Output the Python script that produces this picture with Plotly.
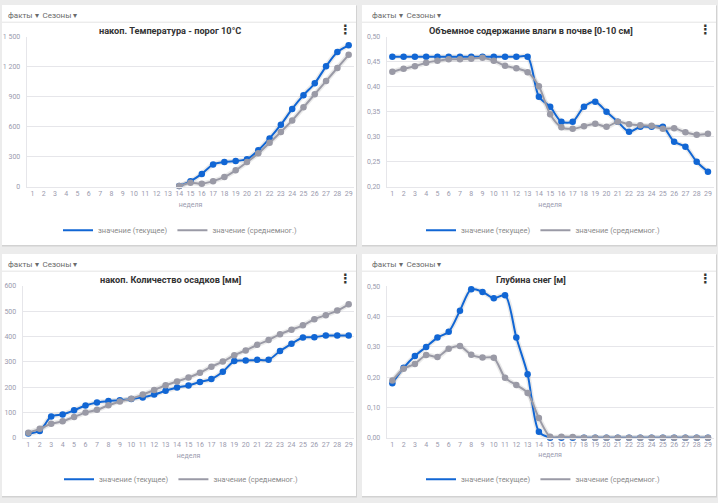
import plotly.graph_objects as go

W, H = 718, 503

# ---------------- data ----------------
weeks = list(range(1, 30))

temp_weeks = list(range(14, 30))
temp_current = [10, 59, 131, 226, 249, 259, 278, 367, 485, 622, 780, 917, 1035, 1205, 1349, 1415]
temp_mean = [10, 43, 33, 59, 101, 167, 249, 337, 442, 550, 665, 796, 927, 1058, 1189, 1320]

soil_current = [0.46, 0.46, 0.46, 0.46, 0.46, 0.46, 0.46, 0.46, 0.46, 0.46, 0.46, 0.46, 0.46,
                0.38, 0.36, 0.33, 0.33, 0.36, 0.37, 0.35, 0.33, 0.31, 0.32, 0.32, 0.32,
                0.29, 0.28, 0.25, 0.23]
soil_mean = [0.430, 0.436, 0.441, 0.448, 0.452, 0.455, 0.455, 0.456, 0.458, 0.452, 0.442, 0.437, 0.429,
             0.401, 0.345, 0.319, 0.316, 0.321, 0.326, 0.320, 0.330, 0.325, 0.323, 0.322, 0.316,
             0.317, 0.309, 0.304, 0.306]

prec_current = [18, 28, 85, 93, 109, 128, 140, 146, 149, 154, 160, 171, 186, 199, 207, 221, 232,
                261, 303, 305, 308, 308, 343, 371, 396, 397, 404, 404, 404]
prec_mean = [21, 36, 56, 66, 83, 100, 111, 129, 144, 155, 171, 189, 208, 223, 238, 257, 281,
             301, 326, 345, 367, 386, 409, 427, 444, 468, 484, 502, 527]

snow_current = [0.18, 0.231, 0.27, 0.30, 0.331, 0.35, 0.42, 0.491, 0.482, 0.461, 0.471, 0.331, 0.21,
                0.02, 0.0, 0.0, 0.0, 0.0, 0.0, 0.0, 0.0, 0.0, 0.0, 0.0, 0.0, 0.0, 0.0, 0.0, 0.0]
snow_mean = [0.189, 0.228, 0.244, 0.273, 0.267, 0.294, 0.303, 0.274, 0.265, 0.264, 0.198, 0.174, 0.148,
             0.065, 0.003, 0.003, 0.002, 0.0, 0.0, 0.0, 0.0, 0.0, 0.0, 0.0, 0.0, 0.0, 0.0, 0.0, 0.0]

titles = ["накоп. Температура - порог 10°C",
          "Объемное содержание влаги в почве [0-10 см]",
          "накоп. Количество осадков [мм]",
          "Глубина снег [м]"]
name_current = "значение (текущее)"
name_mean = "значение (среднемног.)"
x_title = "неделя"
header_text = "факты ▾  Сезоны ▾"

# ---------------- style ----------------
BLUE = "#1166d4"
GRAY = "#9a9aa6"
TICK = "#9a9aae"
GRID = "#e6e6ea"
FONT = "Roboto"


def px(x):
    return x / W


def py(y):
    return 1 - y / H


panels = [
    dict(card=(2, 356, 1, 245), plot=(26.7, 354.3, 33.3, 186.0), title_x=170, menu_x=345, head_x=6,
         legend_x=180, yrange=[0, 1500], dtick=300, fmt=",d",
         x_cur=temp_weeks, y_cur=temp_current, x_mean=temp_weeks, y_mean=temp_mean),
    dict(card=(362, 716, 1, 245), plot=(386.7, 713.6, 33.3, 185.7), title_x=531, menu_x=705, head_x=370,
         legend_x=543, yrange=[0.2, 0.5], dtick=0.05, fmt=".2f",
         x_cur=weeks, y_cur=soil_current, x_mean=weeks, y_mean=soil_mean),
    dict(card=(2, 356, 254, 500), plot=(22.6, 354.4, 286.3, 441.0), title_x=170, menu_x=345, head_x=6,
         legend_x=181, yrange=[0, 600], dtick=100, fmt=",d",
         x_cur=weeks, y_cur=prec_current, x_mean=weeks, y_mean=prec_mean),
    dict(card=(362, 716, 254, 500), plot=(386.7, 713.6, 287.0, 440.7), title_x=531, menu_x=705, head_x=370,
         legend_x=543, yrange=[0, 0.5], dtick=0.1, fmt=".2f",
         x_cur=weeks, y_cur=snow_current, x_mean=weeks, y_mean=snow_mean),
]

fig = go.Figure()
shapes = []
annotations = []
layout = dict(
    width=W, height=H,
    margin=dict(l=0, r=0, t=0, b=0),
    paper_bgcolor="#ececec",
    plot_bgcolor="rgba(0,0,0,0)",
    separators=", ",
    font=dict(family=FONT, size=7, color=TICK),
    showlegend=True,
)

for i, p in enumerate(panels, start=1):
    sfx = "" if i == 1 else str(i)
    xa, ya = "x" + sfx, "y" + sfx
    lg = "legend" + sfx
    cx0, cx1, cy0, cy1 = p["card"]
    x0, x1, y0, y1 = p["plot"]

    # card shadow + card
    shapes.append(dict(type="rect", xref="paper", yref="paper", layer="below",
                       x0=px(cx0), x1=px(cx1 + 1), y0=py(cy1 + 1.5), y1=py(cy0 + 0.5),
                       fillcolor="#d2d2d2", line=dict(width=0)))
    shapes.append(dict(type="rect", xref="paper", yref="paper", layer="below",
                       x0=px(cx0), x1=px(cx1), y0=py(cy1), y1=py(cy0),
                       fillcolor="white", line=dict(width=0)))
    # header separator
    shapes.append(dict(type="line", xref="paper", yref="paper", layer="below",
                       x0=px(cx0), x1=px(cx1), y0=py(cy0 + 17.5), y1=py(cy0 + 17.5),
                       line=dict(color="#e4e4e4", width=1)))

    annotations.append(dict(text=header_text, xref="paper", yref="paper",
                            x=px(p["head_x"]), y=py(cy0 + 11), xanchor="left", yanchor="middle",
                            showarrow=False, font=dict(family=FONT, size=8, color="#6a6a6a")))
    annotations.append(dict(text="<b>" + titles[i - 1] + "</b>", xref="paper", yref="paper",
                            x=px(p["title_x"]), y=py(cy0 + 25.5), xanchor="center", yanchor="middle",
                            showarrow=False, font=dict(family=FONT, size=9.2, color="#333333")))
    annotations.append(dict(text="<b>⋮</b>", xref="paper", yref="paper",
                            x=px(p["menu_x"]), y=py(cy0 + 25), xanchor="center", yanchor="middle",
                            showarrow=False, font=dict(family="DejaVu Sans", size=13, color="#333333")))

    layout["xaxis" + sfx] = dict(
        domain=[px(x0), px(x1)], anchor=ya, range=[0.5, 29.5], tickmode="linear", tick0=1, dtick=1,
        tickangle=0, showgrid=False, zeroline=False, showline=True, linecolor=GRID, linewidth=1,
        ticks="", tickfont=dict(family=FONT, size=7, color=TICK),
        title=dict(text=x_title, standoff=4, font=dict(family=FONT, size=7, color=TICK)),
    )
    layout["yaxis" + sfx] = dict(
        domain=[py(y1), py(y0)], anchor=xa, range=p["yrange"], dtick=p["dtick"], tickformat=p["fmt"],
        showgrid=True, gridcolor=GRID, gridwidth=1, zeroline=False, showline=True, linecolor=GRID,
        ticks="", ticklabelstandoff=4, tickfont=dict(family=FONT, size=7, color=TICK),
    )
    layout[lg] = dict(
        x=px(p["legend_x"]), y=py(cy0 + 229), xanchor="center", yanchor="middle",
        xref="paper", yref="paper", orientation="h", bgcolor="rgba(0,0,0,0)",
        font=dict(family=FONT, size=7.5, color="#8a8a8a"), itemwidth=30, tracegroupgap=0,
    )

    for xs, ys, col in [(p["x_cur"], p["y_cur"], BLUE), (p["x_mean"], p["y_mean"], GRAY)]:
        # soft shadow under the line
        fig.add_trace(go.Scatter(x=xs, y=ys, xaxis=xa, yaxis=ya, mode="lines",
                                 line=dict(color="rgba(90,90,90,0.13)", width=5, shape="spline", smoothing=0.8),
                                 hoverinfo="skip", showlegend=False, cliponaxis=False))
    for xs, ys, col, nm in [(p["x_cur"], p["y_cur"], BLUE, name_current),
                            (p["x_mean"], p["y_mean"], GRAY, name_mean)]:
        fig.add_trace(go.Scatter(x=xs, y=ys, xaxis=xa, yaxis=ya, mode="lines+markers", name=nm,
                                 line=dict(color=col, width=2, shape="spline", smoothing=0.8),
                                 marker=dict(color=col, size=6.5), cliponaxis=False,
                                 showlegend=False))
    for col, nm in [(BLUE, name_current), (GRAY, name_mean)]:
        fig.add_trace(go.Scatter(x=[None], y=[None], xaxis=xa, yaxis=ya, mode="lines", name=nm,
                                 line=dict(color=col, width=2), legend=lg, showlegend=True))

layout["shapes"] = shapes
layout["annotations"] = annotations
fig.update_layout(**layout)
fig.write_html("out.html", config={"displayModeBar": False},
               post_script="document.body.style.margin='0px';document.body.style.overflow='hidden';")
